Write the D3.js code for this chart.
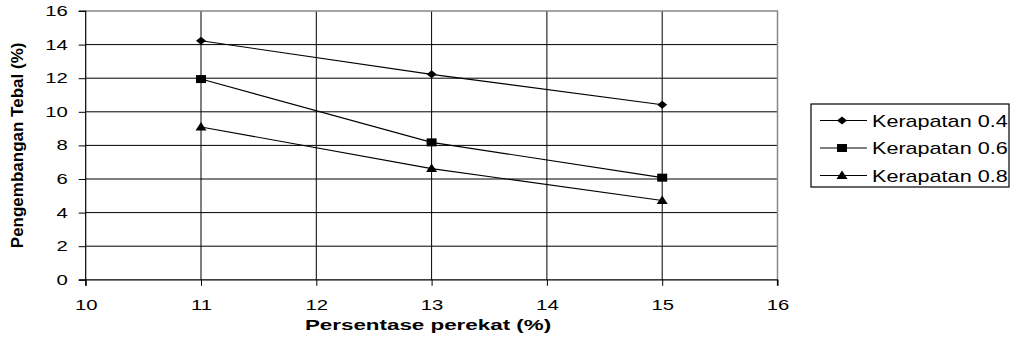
<!DOCTYPE html>
<html><head><meta charset="utf-8">
<script src="https://cdn.jsdelivr.net/npm/d3@7"></script>
<style>body{margin:0;background:#fff}svg{display:block}text{font-family:"Liberation Sans",Arial,sans-serif}</style>
</head><body>
<svg id="c" width="1015" height="350"></svg>
<script>
const xValues = [11, 13, 15];
const seriesNames = ["Kerapatan 0.4", "Kerapatan 0.6", "Kerapatan 0.8"];
const series04 = [14.23, 12.23, 10.42];
const series06 = [11.95, 8.18, 6.08];
const series08 = [9.1, 6.62, 4.72];
const xTicks = [10, 11, 12, 13, 14, 15, 16];
const yTicks = [0, 2, 4, 6, 8, 10, 12, 14, 16];

// marker shapes (slightly wider than tall, like the reference)
const diamond = { draw(c) { c.moveTo(0, -4); c.lineTo(5, 0); c.lineTo(0, 4); c.lineTo(-5, 0); c.closePath(); } };
const square = { draw(c) { c.moveTo(-5, -4); c.lineTo(5, -4); c.lineTo(5, 4); c.lineTo(-5, 4); c.closePath(); } };
const triangle = { draw(c) { c.moveTo(0, -5); c.lineTo(5.5, 3.5); c.lineTo(-5.5, 3.5); c.closePath(); } };
const markers = [diamond, square, triangle];

const svg = d3.select("#c");
const L = 85.7, R = 777.5, T = 11, B = 279.8;
const x = d3.scaleLinear().domain([10, 16]).range([L, R]);
const y = d3.scaleLinear().domain([0, 16]).range([B, T]);
const SX = 1.45;

// grid
svg.append("g").selectAll("line").data(yTicks.filter(d => d > 0 && d < 16)).join("line")
  .attr("x1", L).attr("x2", R).attr("y1", d => y(d)).attr("y2", d => y(d))
  .attr("stroke", "#000").attr("stroke-width", 1);
svg.append("g").selectAll("line").data(xTicks.filter(d => d > 10 && d < 16)).join("line")
  .attr("x1", d => x(d)).attr("x2", d => x(d)).attr("y1", T).attr("y2", B)
  .attr("stroke", "#000").attr("stroke-width", 1);
svg.append("path").attr("d", `M${L},${T}H${R}V${B}`).attr("fill", "none")
  .attr("stroke", "#888").attr("stroke-width", 1.5);

// axes
const yAxis = d3.axisLeft(y).tickValues(yTicks).tickSize(7).tickPadding(11).tickFormat(d3.format("d"));
const gy = svg.append("g").attr("transform", `translate(${L},0)`).call(yAxis);
const xAxis = d3.axisBottom(x).tickValues(xTicks).tickSize(6).tickPadding(14).tickFormat(d3.format("d"));
const gx = svg.append("g").attr("transform", `translate(0,${B})`).call(xAxis);
[gy, gx].forEach(g => {
  g.attr("font-size", null).attr("font-family", null);
  g.select(".domain").attr("stroke", "#000").attr("stroke-width", 1.2);
  g.selectAll(".tick line").attr("stroke", "#000");
  g.selectAll("text").attr("font-size", 14).attr("fill", "#000");
});
gy.select(".domain").attr("d", `M-7,${B}H0V${T}H-7`);
gx.select(".domain").attr("d", `M${L},6V0H${R}V6`);
gy.selectAll(".tick text").each(function() {
  const t = d3.select(this); t.attr("x", +t.attr("x") / SX).attr("transform", `scale(${SX},1)`);
});
gx.selectAll(".tick text").attr("transform", `scale(${SX},1)`);

// series
const allSeries = [series04, series06, series08];
const line = d3.line().x((d, i) => x(xValues[i])).y(d => y(d));
allSeries.forEach((s, k) => {
  svg.append("path").datum(s).attr("d", line).attr("fill", "none")
    .attr("stroke", "#000").attr("stroke-width", 1.1);
  svg.append("g").selectAll("path").data(s).join("path")
    .attr("transform", (d, i) => `translate(${x(xValues[i])},${y(d)})`)
    .attr("d", d3.symbol(markers[k]))
    .attr("fill", "#000");
});

// axis titles
svg.append("text").attr("transform", `translate(428,330) scale(1.6,1)`).attr("text-anchor", "middle")
  .attr("font-size", 14).attr("font-weight", "bold").text("Persentase perekat (%)");
svg.append("text").attr("transform", `translate(23,${(T + B) / 2}) rotate(-90)`)
  .attr("text-anchor", "middle").attr("font-size", 17).attr("font-weight", "bold")
  .text("Pengembangan Tebal (%)");

// legend
const lg = svg.append("g");
lg.append("rect").attr("x", 811).attr("y", 104).attr("width", 198).attr("height", 83)
  .attr("fill", "#fff").attr("stroke", "#000").attr("stroke-width", 1.2);
seriesNames.forEach((n, k) => {
  const cy = 120.5 + k * 27.5;
  lg.append("line").attr("x1", 820).attr("x2", 867).attr("y1", cy).attr("y2", cy)
    .attr("stroke", "#000").attr("stroke-width", 1.1);
  lg.append("path").attr("transform", `translate(842,${cy})`)
    .attr("d", d3.symbol(markers[k])).attr("fill", "#000");
  lg.append("text").attr("transform", `translate(872,${cy + 6}) scale(1.35,1)`)
    .attr("font-size", 16).text(n);
});
</script>
</body></html>
